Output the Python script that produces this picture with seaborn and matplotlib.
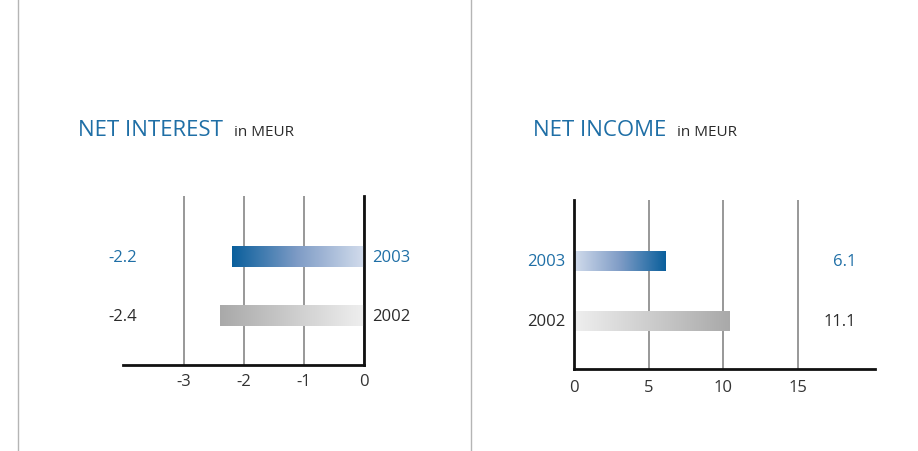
import numpy as np
import matplotlib
matplotlib.use("Agg")
import matplotlib.pyplot as plt
import seaborn as sns
from matplotlib.colors import LinearSegmentedColormap
from matplotlib.lines import Line2D

# values
years = ["2003", "2002"]
interest = [-2.2, -2.4]
interest_labels = ["-2.2", "-2.4"]
income = [6.1, 10.4]          # bar length as drawn in the picture
income_labels = ["6.1", "11.1"]  # printed value

interest_ticks = [-3, -2, -1, 0]
income_ticks = [0, 5, 10, 15]

blue = "#1f6fa6"
dark = "#2b2b2b"

sns.set_theme(style="white")
plt.rcParams['font.family'] = ['Open Sans', 'DejaVu Sans']

blue_cmap = LinearSegmentedColormap.from_list("b", ["#d2dcec", "#7f9cc6", "#0a5f9c"])
gray_cmap = LinearSegmentedColormap.from_list("g", ["#efefef", "#a9a9a9"])
cmaps = [blue_cmap, gray_cmap]
year_colors = [blue, dark]


def gradient_bars(ax):
    grad = np.linspace(0, 1, 256).reshape(1, -1)
    for patch, cmap in zip(ax.patches, cmaps):
        x0 = patch.get_x()
        x1 = x0 + patch.get_width()
        y0 = patch.get_y()
        y1 = y0 + patch.get_height()
        # dark end sits at the value end of the bar
        img = grad if x1 > x0 else grad[:, ::-1]
        ax.imshow(img, cmap=cmap, extent=[min(x0, x1), max(x0, x1), y1, y0],
                  aspect="auto", zorder=3, interpolation="bilinear")
        patch.set_visible(False)


def style_axis(ax, ticks, xlim, ylim, spine, pad):
    ax.set_xlim(*xlim)
    ax.set_ylim(*ylim)
    ax.set_xticks(ticks)
    ax.set_xticklabels([str(t) for t in ticks])
    ax.set_yticks([])
    ax.set_xlabel("")
    ax.set_ylabel("")
    ax.tick_params(axis="x", length=0, pad=pad, labelsize=12, labelcolor="#333333")
    ax.xaxis.grid(True, color="#7c7c7c", linewidth=1.1)
    ax.set_axisbelow(True)
    for side in ["top", "left", "right", "bottom"]:
        ax.spines[side].set_visible(False)
    for side in ["bottom", spine]:
        ax.spines[side].set_visible(True)
        ax.spines[side].set_color("#111111")
        ax.spines[side].set_linewidth(2.0)
        ax.spines[side].set_zorder(5)


fig = plt.figure(figsize=(9.18, 4.52), dpi=100)

# left panel: net interest
ax1 = fig.add_axes([0.134, 0.190, 0.2625, 0.374])
sns.barplot(x=interest, y=years, orient="h", ax=ax1, width=0.34, color="#999999")
gradient_bars(ax1)
style_axis(ax1, interest_ticks, (-4.02, 0), (1.83, -1.03), "right", 5.5)
for i, (lab, c) in enumerate(zip(interest_labels, year_colors)):
    ax1.text(-3.78, i, lab, ha="right", va="center", fontsize=12, color=c)
    ax1.text(0.13, i, years[i], ha="left", va="center", fontsize=12, color=c,
             clip_on=False)

# right panel: net income
ax2 = fig.add_axes([0.6253, 0.1814, 0.328, 0.374])
sns.barplot(x=income, y=years, orient="h", ax=ax2, width=0.33, color="#999999")
gradient_bars(ax2)
style_axis(ax2, income_ticks, (0, 20.16), (1.8, -1.02), "left", 7)
for i, (lab, c) in enumerate(zip(income_labels, year_colors)):
    ax2.text(18.9, i, lab, ha="right", va="center", fontsize=12, color=c)
    ax2.text(-0.6, i, years[i], ha="right", va="center", fontsize=12, color=c,
             clip_on=False)

# titles
for x, main in [(78 / 918, "NET INTEREST"), (533 / 918, "NET INCOME")]:
    t = fig.text(x, 1 - 136 / 452, main, fontsize=16, color=blue, va="baseline")
    fig.canvas.draw()
    bb = t.get_window_extent()
    fig.text((bb.x1 + 11) / fig.bbox.width, 1 - 136 / 452, "in MEUR",
             fontsize=11, color=dark, va="baseline")

# panel separators
for px in [18, 471]:
    fig.add_artist(Line2D([px / 918, px / 918], [0, 1], color="#b5b5b5", linewidth=1.0))

fig.savefig("out.png", dpi=100)
